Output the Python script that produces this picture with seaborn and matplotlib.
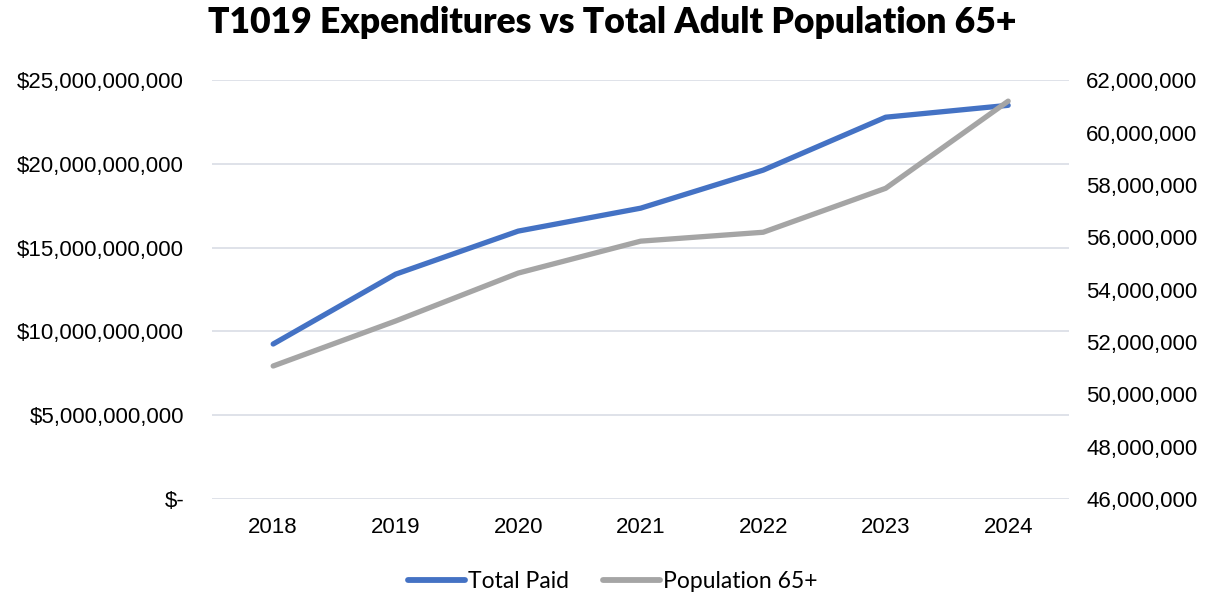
import pandas as pd
import numpy as np
import seaborn as sns
import matplotlib.pyplot as plt
from matplotlib.ticker import FuncFormatter
from matplotlib.lines import Line2D

# data
years = ['2018', '2019', '2020', '2021', '2022', '2023', '2024']
total_paid = [9.25e9, 13.42e9, 15.99e9, 17.36e9, 19.63e9, 22.79e9, 23.5e9]
population_65 = [51.08e6, 52.8e6, 54.63e6, 55.85e6, 56.19e6, 57.87e6, 61.2e6]

df = pd.DataFrame({'Year': years, 'Total Paid': total_paid, 'Population 65+': population_65})

sns.set_style('white')
plt.rcParams['font.family'] = ['Liberation Sans', 'DejaVu Sans']
plt.rcParams['text.color'] = 'black'

blue = '#4472C4'
gray = '#A5A5A5'

fig, ax = plt.subplots(figsize=(12.25, 5.94), dpi=100)
fig.subplots_adjust(left=0.173, right=0.873, top=0.865, bottom=0.16)

sns.lineplot(data=df, x='Year', y='Total Paid', ax=ax, color=blue, linewidth=3.8,
             solid_capstyle='round', sort=False)
ax2 = ax.twinx()
sns.lineplot(data=df, x='Year', y='Population 65+', ax=ax2, color=gray, linewidth=3.8,
             solid_capstyle='round', sort=False)

# left axis
ax.set_ylim(0, 25e9)
ax.set_yticks(np.arange(0, 25e9 + 1, 5e9))
ax.yaxis.set_major_formatter(FuncFormatter(lambda v, p: '$-' if v == 0 else f'${v:,.0f}'))
ax.grid(axis='y', color='#D9DDE5', linewidth=1.2)
ax.set_axisbelow(True)
ax.set_xlim(-0.5, len(years) - 0.5)

# right axis
ax2.set_ylim(46e6, 62e6)
ax2.set_yticks(np.arange(46e6, 62e6 + 1, 2e6))
ax2.yaxis.set_major_formatter(FuncFormatter(lambda v, p: f'{v:,.0f}'))
ax2.grid(False)

for a in (ax, ax2):
    a.set_xlabel('')
    a.set_ylabel('')
    for s in a.spines.values():
        s.set_visible(False)
    a.tick_params(length=0, labelsize=16, colors='#000000')
ax.tick_params(axis='y', pad=20)
ax.tick_params(axis='x', pad=13)
ax2.tick_params(axis='y', pad=12)

fig.suptitle('T1019 Expenditures vs Total Adult Population 65+', x=0.5, y=0.99,
             fontsize=25.6, fontweight='heavy', color='black',
             family=['Lato', 'DejaVu Sans'])

handles = [Line2D([], [], color=blue, linewidth=4.2, solid_capstyle='round'),
           Line2D([], [], color=gray, linewidth=4.2, solid_capstyle='round')]
fig.legend(handles, ['Total Paid', 'Population 65+'], loc='lower center',
           bbox_to_anchor=(0.5, -0.032), ncol=2, frameon=False,
           handlelength=2.5, handletextpad=0.1, columnspacing=1.5,
           prop={'family': ['Lato', 'DejaVu Sans'], 'size': 16.5})

fig.savefig('out.png', dpi=100)
